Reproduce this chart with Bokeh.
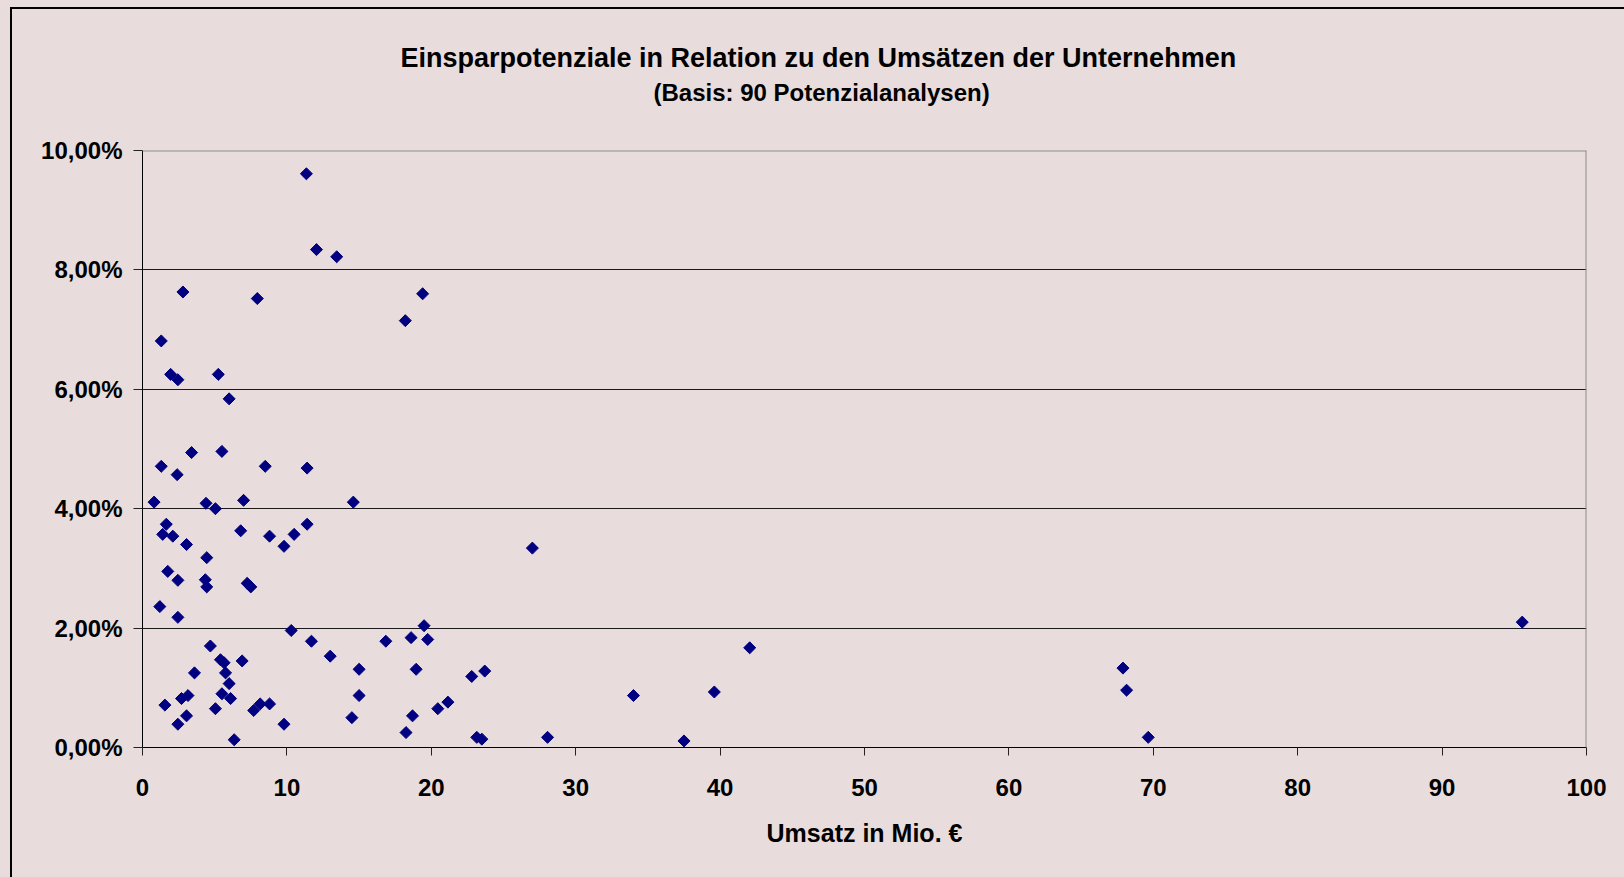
import math
from bokeh.plotting import figure
from bokeh.models import Range1d, FixedTicker, Span, Title
from bokeh.embed import file_html
from bokeh.resources import INLINE

# ---- data (Umsatz in Mio. EUR, Einsparpotenzial in %) ----
umsatz = [0.8, 1.3, 3.4, 5.5, 2.4, 8.5, 11.4, 4.4, 5.05, 7.0,
          14.6, 1.65, 1.4, 2.1, 3.05, 6.8, 8.8, 9.8, 10.5, 11.4,
          27.0, 4.45, 1.75, 2.45, 4.35, 4.45, 7.25, 7.5, 1.2, 2.45,
          10.3, 11.7, 4.7, 13.0, 5.4, 5.65, 5.75, 6.9, 3.6, 6.0,
          5.5, 6.1, 2.7, 3.15, 1.55, 3.05, 2.45, 5.05, 6.35, 7.7,
          8.15, 8.8, 9.8, 16.85, 18.6, 19.5, 19.75, 15.0, 18.95, 15.0,
          14.5, 18.7, 18.25, 20.45, 21.15, 22.8, 23.7, 23.15, 23.5, 28.05,
          34.0, 37.5, 39.6, 42.05, 95.55, 67.9, 68.15, 69.65, 11.35, 12.05,
          13.45, 2.8, 7.95, 19.4, 18.2, 1.3, 1.95, 2.45, 5.25, 6.0]
einsparung = [4.11, 4.71, 4.94, 4.96, 4.57, 4.71, 4.68, 4.09, 4.00, 4.14,
              4.11, 3.74, 3.57, 3.54, 3.40, 3.63, 3.54, 3.37, 3.57, 3.74,
              3.34, 3.18, 2.95, 2.80, 2.81, 2.69, 2.75, 2.69, 2.36, 2.18,
              1.96, 1.78, 1.70, 1.53, 1.47, 1.42, 1.25, 1.45, 1.25, 1.07,
              0.90, 0.82, 0.82, 0.87, 0.71, 0.53, 0.39, 0.65, 0.13, 0.62,
              0.73, 0.73, 0.39, 1.78, 1.84, 2.04, 1.81, 1.31, 1.31, 0.87,
              0.50, 0.53, 0.25, 0.65, 0.76, 1.19, 1.28, 0.17, 0.14, 0.17,
              0.87, 0.11, 0.93, 1.67, 2.10, 1.33, 0.96, 0.17, 9.61, 8.34,
              8.22, 7.63, 7.52, 7.60, 7.15, 6.81, 6.25, 6.16, 6.25, 5.84]
x_ticks = [0, 10, 20, 30, 40, 50, 60, 70, 80, 90, 100]
y_ticks = [0, 2, 4, 6, 8, 10]
y_tick_labels = ["0,00%", "2,00%", "4,00%", "6,00%", "8,00%", "10,00%"]

title_text = "Einsparpotenziale in Relation zu den Umsätzen der Unternehmen"
subtitle_text = "(Basis: 90 Potenzialanalysen)"
x_label = "Umsatz in Mio. €"

FONT = "Liberation Sans"
BG = "#e8dcdc"
NAVY = "#000080"

p = figure(width=1624, height=877, output_backend="svg", toolbar_location=None,
           x_range=Range1d(0, 100), y_range=Range1d(0, 10),
           min_border_left=142, min_border_right=38,
           min_border_top=0, min_border_bottom=130)
p.background_fill_color = BG
p.border_fill_color = None
p.outline_line_color = None
# page background + the black chart frame at the left/top edge
p.styles = {"background-color": BG,
            "box-shadow": "inset 10px 7px 0 0 %s, inset 12px 9px 0 0 #000000" % BG}

# grid
p.xgrid.visible = False
p.ygrid.ticker = FixedTicker(ticks=y_ticks[:-1])
p.ygrid.grid_line_color = "#1a1a1a"
p.ygrid.grid_line_width = 1

# plot-area top/right edges (grey)
p.add_layout(Span(location=10, dimension="width", line_color="#8c8c8c", line_width=2))
p.add_layout(Span(location=100, dimension="height", line_color="#8c8c8c", line_width=2))

# axes
for ax in (p.xaxis, p.yaxis):
    ax.axis_line_color = "#000000"
    ax.axis_line_width = 1
    ax.major_tick_line_color = "#222222"
    ax.major_tick_in = 0
    ax.minor_tick_line_color = None
    ax.major_label_text_font = FONT
    ax.major_label_text_font_style = "bold"
    ax.major_label_text_font_size = "24px"
    ax.major_label_text_color = "#000000"

p.xaxis.ticker = FixedTicker(ticks=x_ticks)
p.xaxis.major_tick_out = 8
p.xaxis.major_label_standoff = 23
p.xaxis.axis_label = x_label
p.xaxis.axis_label_text_font = FONT
p.xaxis.axis_label_text_font_style = "bold"
p.xaxis.axis_label_text_font_size = "25px"
p.xaxis.axis_label_text_color = "#000000"
p.xaxis.axis_label_standoff = 20

p.yaxis.ticker = FixedTicker(ticks=y_ticks)
p.yaxis.major_label_overrides = {t: l for t, l in zip(y_ticks, y_tick_labels)}
p.yaxis.major_tick_out = 9
p.yaxis.major_label_standoff = 11

# data
p.scatter(umsatz, einsparung, marker="square", angle=math.pi / 4, size=8.5,
          fill_color=NAVY, line_color=NAVY, line_width=1)

# titles, stacked above the plot area (nearest first)
p.add_layout(Title(text=" ", text_font_size="10px", standoff=29), "above")
p.add_layout(Title(text=subtitle_text, text_font=FONT, text_font_style="bold",
                   text_font_size="24px", text_color="#000000", align="left",
                   offset=511, vertical_align="middle", standoff=4), "above")
p.add_layout(Title(text=title_text, text_font=FONT, text_font_style="bold",
                   text_font_size="27px", text_color="#000000", align="left",
                   offset=258, vertical_align="middle", standoff=4), "above")
p.add_layout(Title(text=" ", text_font_size="10px", standoff=26), "above")

open("out.html", "w").write(file_html(p, INLINE))
